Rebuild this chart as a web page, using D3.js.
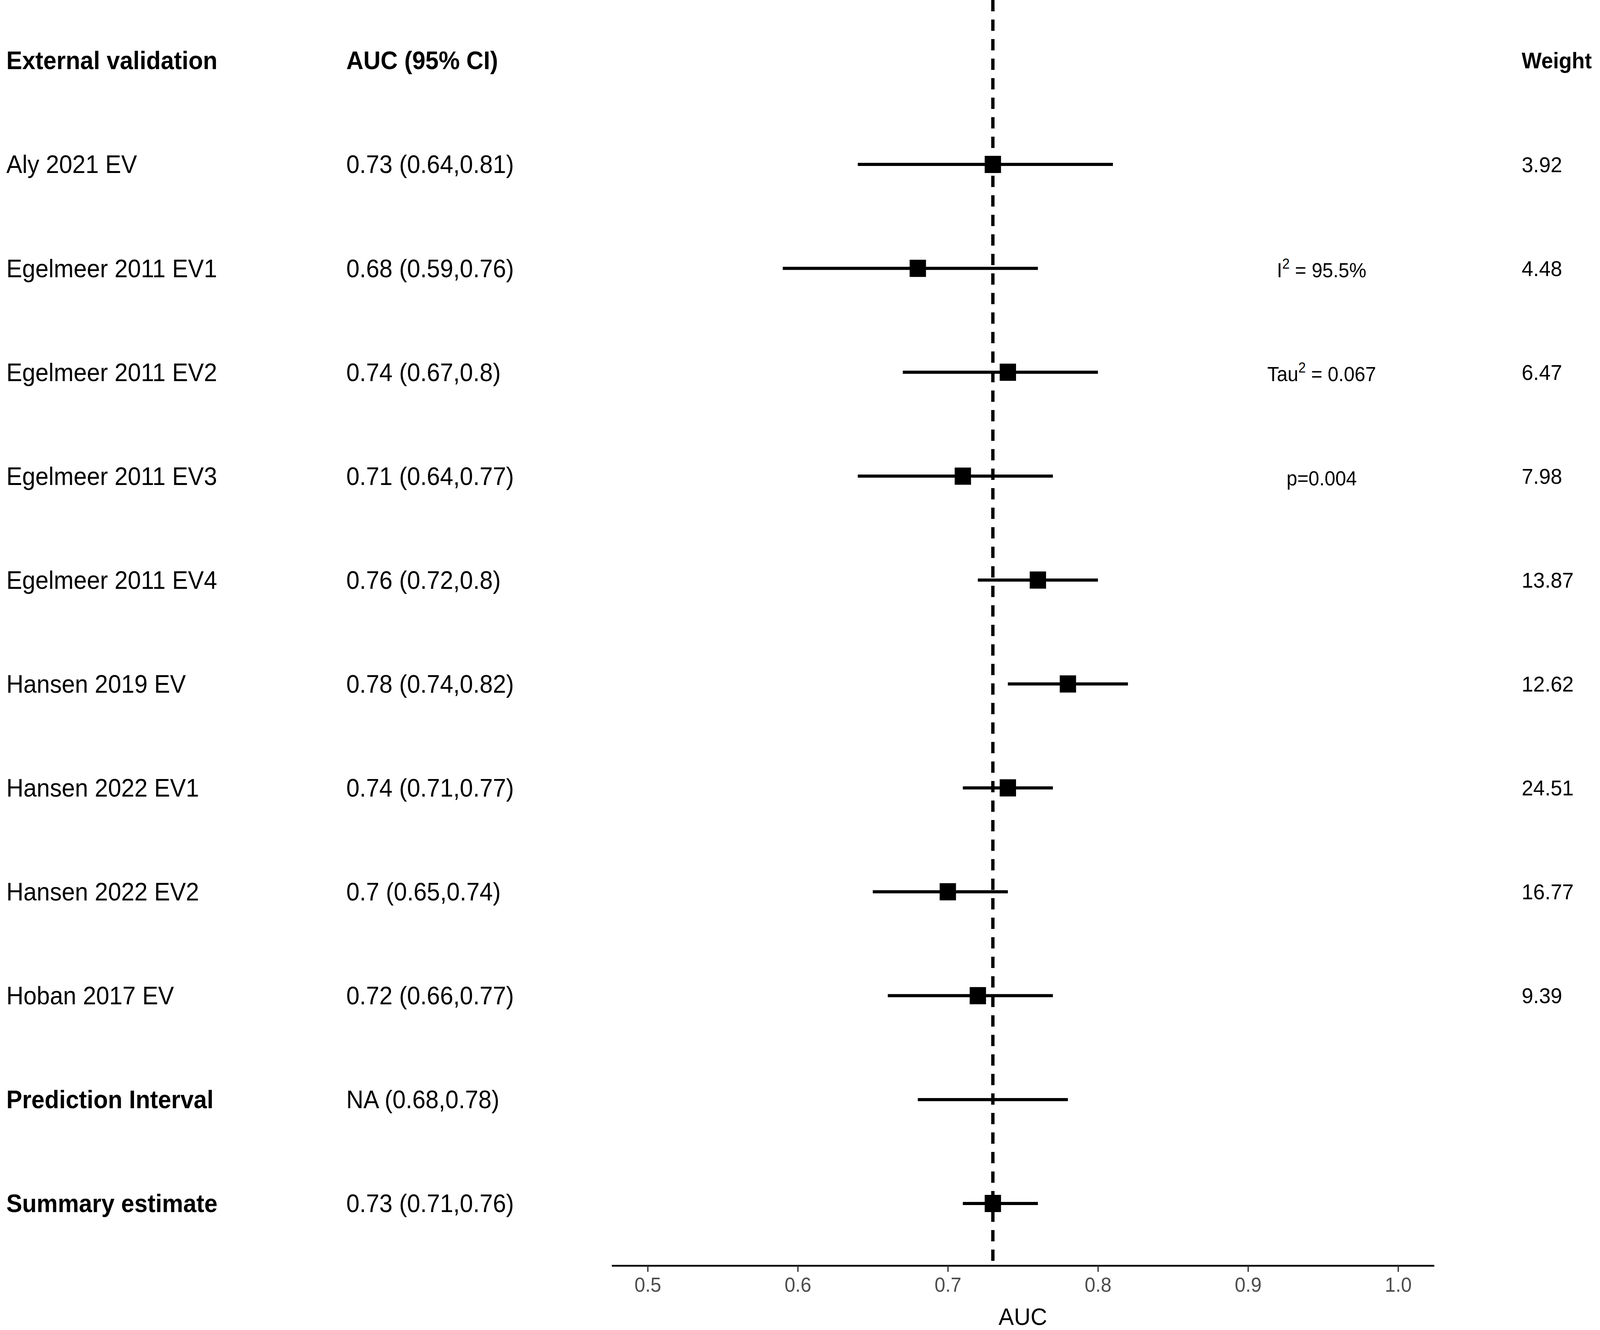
<!DOCTYPE html>
<html>
<head>
<meta charset="utf-8">
<script src="https://cdn.jsdelivr.net/npm/d3@7"></script>
<style>
  html, body { margin: 0; padding: 0; background: #fff; overflow: hidden; }
  svg { display: block; width: 100vw; height: 100vh; }
  text { font-family: "Liberation Sans", Arial, sans-serif; }
</style>
</head>
<body>
<div id="forest"></div>
<script>
let width = 4311, height = 3406;

// data
let studies = ["Aly 2021 EV", "Egelmeer 2011 EV1", "Egelmeer 2011 EV2", "Egelmeer 2011 EV3",
  "Egelmeer 2011 EV4", "Hansen 2019 EV", "Hansen 2022 EV1", "Hansen 2022 EV2", "Hoban 2017 EV",
  "Prediction Interval", "Summary estimate"];
let auc   = [0.73, 0.68, 0.74, 0.71, 0.76, 0.78, 0.74, 0.70, 0.72, null, 0.73];
let lower = [0.64, 0.59, 0.67, 0.64, 0.72, 0.74, 0.71, 0.65, 0.66, 0.68, 0.71];
let upper = [0.81, 0.76, 0.80, 0.77, 0.80, 0.82, 0.77, 0.74, 0.77, 0.78, 0.76];
let weights = [3.92, 4.48, 6.47, 7.98, 13.87, 12.62, 24.51, 16.77, 9.39, null, null];
let boldRows = ["Prediction Interval", "Summary estimate"];
let headers = ["External validation", "AUC (95% CI)", "Weight"];
let xTicks = [0.5, 0.6, 0.7, 0.8, 0.9, 1.0];
let summaryAUC = 0.73;
// heterogeneity stats: [row, name, superscript, rest]
let stats = [
  ["Egelmeer 2011 EV1", "I", "2", " = 95.5%"],
  ["Egelmeer 2011 EV2", "Tau", "2", " = 0.067"],
  ["Egelmeer 2011 EV3", "p=0.004", "", ""]
];

let data = studies.map((s, i) => ({study: s, est: auc[i], lo: lower[i], hi: upper[i], w: weights[i]}));

let x = d3.scaleLinear()
  .domain([0.476, 1.024])
  .range([1648, 3864]);

let y = d3.scalePoint()
  .domain(["header"].concat(studies))
  .range([155, 3082]);

let axisY = 3241;

// stretch the drawing over the whole window
let svg = d3.select("#forest")
  .append("svg")
  .attr("viewBox", [0, 0, width, height])
  .attr("preserveAspectRatio", "none");

svg.append("rect").attr("width", width).attr("height", height).attr("fill", "#fff");

// reference line at the summary estimate
svg.append("line")
  .attr("x1", x(summaryAUC)).attr("x2", x(summaryAUC))
  .attr("y1", 0).attr("y2", axisY)
  .attr("stroke", "#000")
  .attr("stroke-width", 9)
  .attr("stroke-dasharray", "29,21");

// confidence intervals
svg.append("g")
  .selectAll("line")
  .data(data)
  .join("line")
  .attr("x1", d => x(d.lo))
  .attr("x2", d => x(d.hi))
  .attr("y1", d => y(d.study))
  .attr("y2", d => y(d.study))
  .attr("stroke", "#000")
  .attr("stroke-width", 8);

// point estimates
let sq = 44;
svg.append("g")
  .selectAll("rect")
  .data(data.filter(d => d.est != null))
  .join("rect")
  .attr("x", d => x(d.est) - sq / 2)
  .attr("y", d => y(d.study) - sq / 2)
  .attr("width", sq)
  .attr("height", sq)
  .attr("fill", "#000");

// x axis
let xAxis = g => g
  .attr("transform", `translate(0,${axisY})`)
  .call(d3.axisBottom(x).tickValues(xTicks).tickFormat(d3.format(".1f")).tickSize(16).tickPadding(14).tickSizeOuter(0))
  .call(g => g.select(".domain").attr("stroke-width", 4.5))
  .call(g => g.selectAll(".tick line").attr("stroke-width", 3.5).attr("stroke", "#333"))
  .call(g => g.selectAll(".tick text").attr("font-size", 52).attr("fill", "#4d4d4d")
    .attr("font-family", "Liberation Sans, Arial, sans-serif"));

svg.append("g").call(xAxis);

svg.append("text")
  .attr("x", x(0.75))
  .attr("y", 3371)
  .attr("dy", "0.35em")
  .attr("text-anchor", "middle")
  .attr("font-size", 62)
  .attr("fill", "#000")
  .text("AUC");

// header row
svg.append("g")
  .selectAll("text")
  .data(headers)
  .join("text")
  .attr("x", (d, i) => [17, 933, 4100][i])
  .attr("y", y("header"))
  .attr("dy", "0.35em")
  .attr("font-size", (d, i) => i == 2 ? 57 : 64)
  .attr("font-weight", "bold")
  .text(d => d);

// study labels
svg.append("g")
  .selectAll("text")
  .data(data)
  .join("text")
  .attr("x", 17)
  .attr("y", d => y(d.study))
  .attr("dy", "0.35em")
  .attr("font-size", 64)
  .attr("font-weight", d => boldRows.includes(d.study) ? "bold" : "normal")
  .text(d => d.study);

// AUC (95% CI) column
svg.append("g")
  .selectAll("text")
  .data(data)
  .join("text")
  .attr("x", 933)
  .attr("y", d => y(d.study))
  .attr("dy", "0.35em")
  .attr("font-size", 64)
  .text(d => `${d.est == null ? "NA" : d.est} (${d.lo},${d.hi})`);

// weights
svg.append("g")
  .selectAll("text")
  .data(data.filter(d => d.w != null))
  .join("text")
  .attr("x", 4100)
  .attr("y", d => y(d.study))
  .attr("dy", "0.35em")
  .attr("font-size", 56)
  .text(d => d.w.toFixed(2));

// heterogeneity statistics
let st = svg.append("g")
  .selectAll("text")
  .data(stats)
  .join("text")
  .attr("x", 3561)
  .attr("y", d => y(d[0]) + 5)
  .attr("dy", "0.35em")
  .attr("text-anchor", "middle")
  .attr("font-size", 52);

st.append("tspan").text(d => d[1]);
st.filter(d => d[2] != "").append("tspan")
  .attr("font-size", 36)
  .attr("dy", -22)
  .text(d => d[2]);
st.filter(d => d[2] != "").append("tspan")
  .attr("dy", 22)
  .text(d => d[3]);
</script>
</body>
</html>
